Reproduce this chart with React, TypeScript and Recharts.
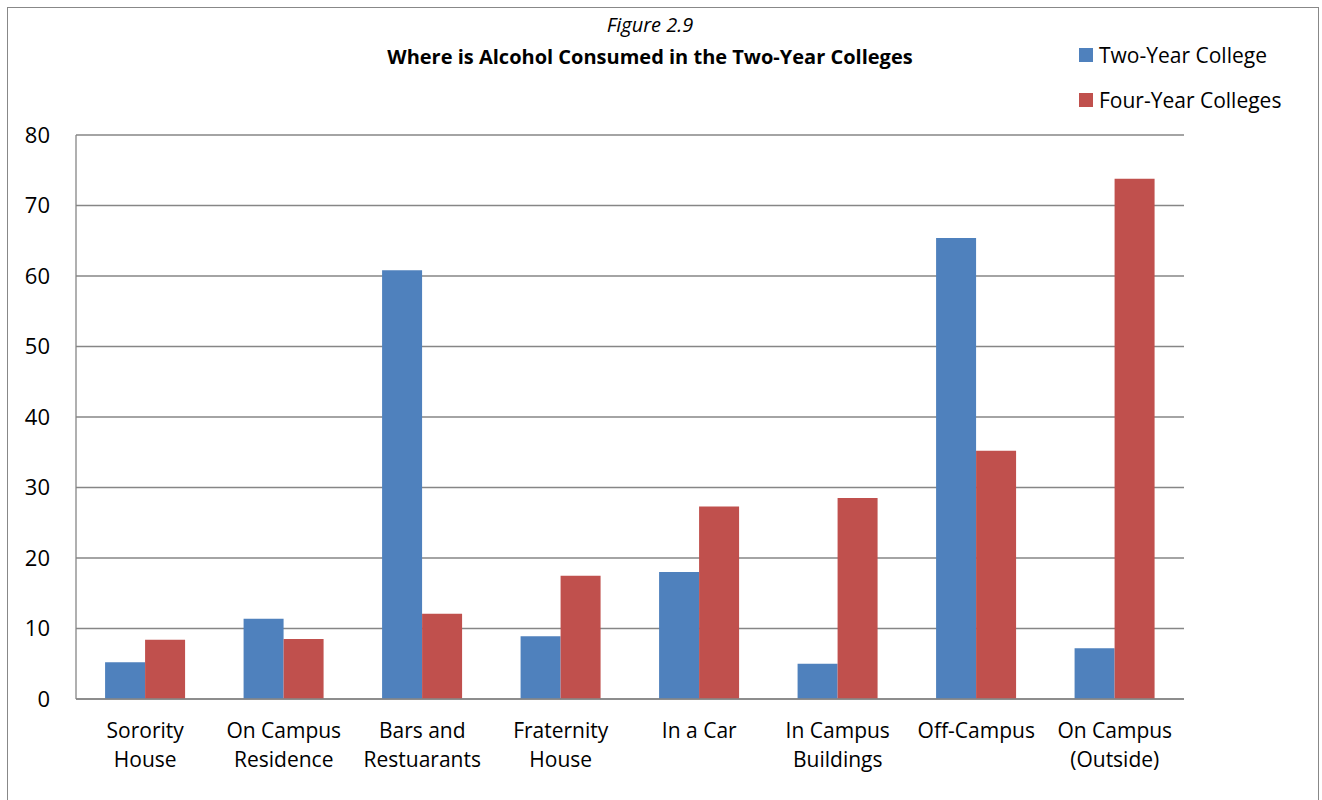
import React from "react";
import { BarChart, Bar, XAxis, YAxis, CartesianGrid } from "recharts";

const categories = [
  "Sorority House",
  "On Campus Residence",
  "Bars and Restuarants",
  "Fraternity House",
  "In a Car",
  "In Campus Buildings",
  "Off-Campus",
  "On Campus (Outside)",
];
const twoYear = [5.2, 11.4, 60.8, 8.9, 18.0, 5.0, 65.4, 7.2];
const fourYear = [8.4, 8.5, 12.1, 17.5, 27.3, 28.5, 35.2, 73.8];
const yTicks = [0, 10, 20, 30, 40, 50, 60, 70, 80];

const series = [
  { key: "twoYear", name: "Two-Year College", color: "#4F81BD" },
  { key: "fourYear", name: "Four-Year Colleges", color: "#C0504D" },
];

const data = categories.map((cat, i) => ({
  cat,
  twoYear: twoYear[i],
  fourYear: fourYear[i],
}));

const FONT = "'Open Sans', Lato, sans-serif";
const GRID = "#868686";

// long labels wrap onto two lines at the last space
function splitLabel(s: string) {
  if (s.length <= 10) return [s];
  const i = s.lastIndexOf(" ");
  return [s.slice(0, i), s.slice(i + 1)];
}

function CatTick(props: any) {
  const { x, y, payload } = props;
  const lines = splitLabel(payload.value);
  return (
    <text x={x} y={y} textAnchor="middle" fill="#000" fontSize={21} fontFamily={FONT}>
      {lines.map((l, i) => (
        <tspan key={i} x={x} dy={i === 0 ? 39 : 29}>
          {l}
        </tspan>
      ))}
    </text>
  );
}

export default function App() {
  return (
    <div
      style={{
        position: "absolute",
        left: 0,
        top: 0,
        width: 1322,
        height: 800,
        overflow: "hidden",
        background: "#fff",
        fontFamily: FONT,
      }}
    >
      <div
        style={{
          position: "absolute",
          left: 7,
          top: 7,
          width: 1310,
          height: 830,
          border: "1.5px solid #888",
        }}
      />
      <div
        style={{
          position: "absolute",
          left: 0,
          width: 1300,
          top: 12,
          textAlign: "center",
          fontSize: 20,
          fontStyle: "italic",
          lineHeight: "26px",
        }}
      >
        Figure 2.9
      </div>
      <div
        style={{
          position: "absolute",
          left: 0,
          width: 1300,
          top: 44,
          textAlign: "center",
          fontSize: 20,
          fontWeight: 700,
          lineHeight: "26px",
        }}
      >
        Where is Alcohol Consumed in the Two-Year Colleges
      </div>
      {series.map((s, i) => (
        <div
          key={s.key}
          style={{
            position: "absolute",
            left: 1079,
            top: 42 + i * 45,
            height: 26,
            display: "flex",
            alignItems: "center",
            fontSize: 21,
            whiteSpace: "nowrap",
          }}
        >
          <span
            style={{
              display: "inline-block",
              width: 14,
              height: 14,
              background: s.color,
              marginRight: 6,
            }}
          />
          {s.name}
        </div>
      ))}
      <div style={{ position: "absolute", left: 0, top: 0 }}>
        <BarChart
          width={1322}
          height={800}
          data={data}
          margin={{ top: 135, right: 138, bottom: 41, left: 16 }}
          barCategoryGap="21%"
          barGap={0}
        >
          <CartesianGrid vertical={false} stroke={GRID} strokeWidth={1.3} />
          <XAxis
            dataKey="cat"
            height={60}
            tick={<CatTick />}
            tickLine={false}
            tickSize={0}
            tickMargin={0}
            interval={0}
            axisLine={{ stroke: GRID, strokeWidth: 1.3 }}
          />
          <YAxis
            width={60}
            domain={[0, 80]}
            ticks={yTicks}
            interval={0}
            tickLine={false}
            tickSize={0}
            tickMargin={26}
            axisLine={{ stroke: GRID, strokeWidth: 1.3 }}
            tick={{ fill: "#000", fontSize: 22, fontFamily: FONT }}
          />
          {series.map((s) => (
            <Bar
              key={s.key}
              dataKey={s.key}
              name={s.name}
              fill={s.color}
              isAnimationActive={false}
            />
          ))}
        </BarChart>
      </div>
    </div>
  );
}
